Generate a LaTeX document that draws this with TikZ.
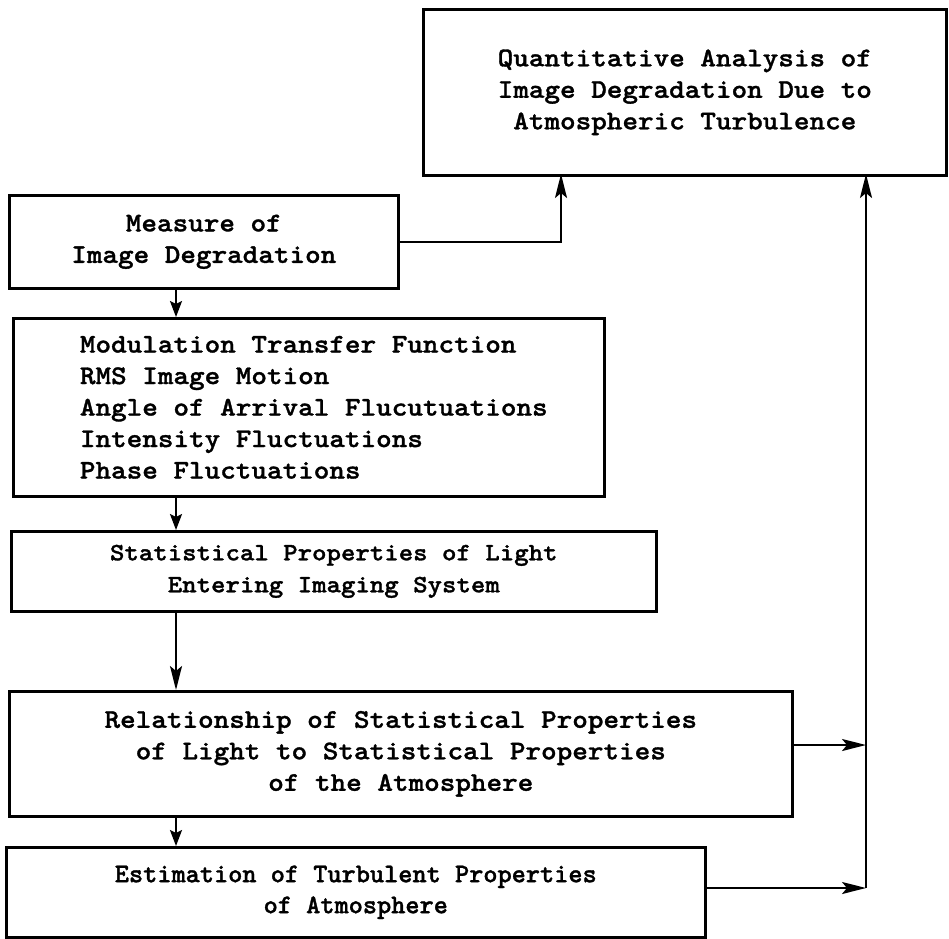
\documentclass[tikz,border=0pt]{standalone}
\usepackage{fontspec}
\usetikzlibrary{arrows.meta}
% dark typewriter faces for the box texts
\newfontfamily\twfont{lmmonolt10-bold}[Extension=.otf, FakeStretch=1.1, FakeBold=1.2]
\newfontfamily\twnarrow{lmmonolt10-bold}[Extension=.otf, FakeStretch=1.0, FakeBold=1.2]
\tikzset{
  box/.style={draw, line width=2.6pt, rectangle, anchor=north west, inner sep=0pt, align=center},
  txt/.style={font=\twfont\fontsize{27}{31.5}\selectfont},
  txtsmall/.style={font=\twfont\fontsize{25}{32}\selectfont},
  txtnarrow/.style={font=\twnarrow\fontsize{27}{31}\selectfont},
  arr/.style={line width=2.2pt, -{Stealth[length=24pt,width=12pt,inset=5pt]}},
  sarr/.style={line width=2.2pt, -{Stealth[length=16pt,width=12pt,inset=3pt]}},
  wire/.style={line width=2.2pt}
}
\begin{document}
\begin{tikzpicture}[x=1pt,y=-1pt]
\path[use as bounding box] (0,0) rectangle (949,938);

% boxes
\node[box, txt, minimum width=523pt, minimum height=166pt] (top) at (422,8)
  {Quantitative Analysis of\\Image Degradation Due to\\Atmospheric Turbulence};
\node[box, txt, minimum width=389pt, minimum height=93pt] (m1) at (8,194)
  {Measure of\\Image Degradation};
\node[box, txt, minimum width=591pt, minimum height=178pt, align=left] (m2) at (12,317)
  {\hspace*{10pt}Modulation Transfer Function\\\hspace*{10pt}RMS Image Motion\\\hspace*{10pt}Angle of Arrival Flucutuations\\\hspace*{10pt}Intensity Fluctuations\\\hspace*{10pt}Phase Fluctuations};
\node[box, txtsmall, minimum width=645pt, minimum height=80pt] (m3) at (10,530)
  {Statistical Properties of Light\\Entering Imaging System};
\node[box, txt, minimum width=783pt, minimum height=125pt] (m4) at (8,690)
  {Relationship of Statistical Properties\\of Light to Statistical Properties\\of the Atmosphere};
\node[box, txtnarrow, minimum width=699pt, minimum height=90pt] (m5) at (5,846)
  {Estimation of Turbulent Properties\\of Atmosphere};

% connector reference points
\coordinate (xref) at (176,0);
\coordinate (tA) at (561,174);
\coordinate (tB) at (866,174);
\coordinate (bus4) at (866,745);
\coordinate (bus5) at (866,888);

% main chain
\draw[sarr] (m1.south -| xref) -- (m2.north -| xref);
\draw[sarr] (m2.south -| xref) -- (m3.north -| xref);
\draw[arr] (m3.south -| xref) -- (m4.north -| xref);
\draw[sarr] (m4.south -| xref) -- (m5.north -| xref);

% feedback to the analysis box
\draw[arr] (m1.east) -| (tA);
\draw[arr] (m4.east |- bus4) -- (bus4);
\draw[arr] (m5.east |- bus5) -- (bus5);
\draw[arr] (bus5) -- (tB);
\end{tikzpicture}
\end{document}
